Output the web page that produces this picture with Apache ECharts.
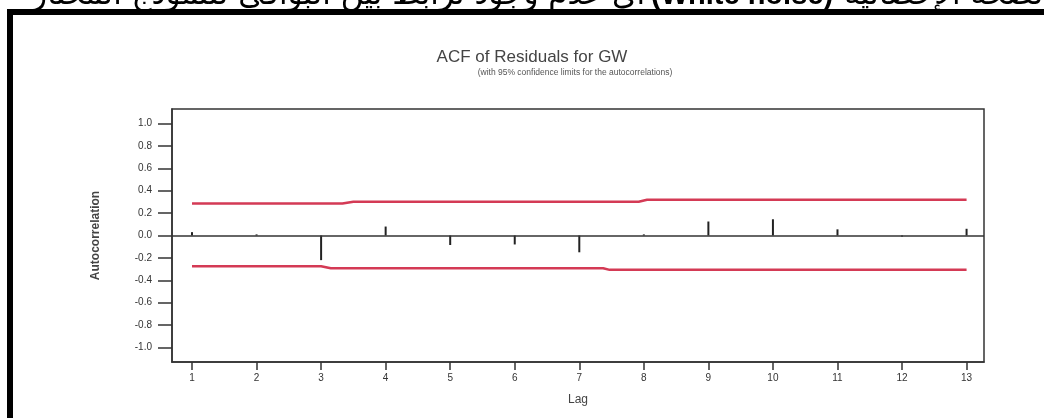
<!DOCTYPE html>
<html>
<head>
<meta charset="utf-8">
<script src="https://cdn.jsdelivr.net/npm/echarts@6/dist/echarts.min.js"></script>
<style>
  html, body { margin: 0; padding: 0; background: #fff; }
  #chart { width: 1044px; height: 418px; }
</style>
</head>
<body>
<div id="chart"></div>
<script>
// ACF values by lag
const lags = [1, 2, 3, 4, 5, 6, 7, 8, 9, 10, 11, 12, 13];
const acf = [0.03, 0.01, -0.22, 0.08, -0.085, -0.08, -0.15, 0.01, 0.125, 0.145, 0.055, -0.01, 0.06];

// 95% confidence limits (step shaped)
const upperLag = [1, 3.33, 3.5, 7.92, 8.05, 13];
const upperVal = [0.285, 0.285, 0.302, 0.302, 0.32, 0.32];
const lowerLag = [1, 3.0, 3.15, 7.37, 7.47, 13];
const lowerVal = [-0.275, -0.275, -0.292, -0.292, -0.307, -0.307];

const yTicks = [-1.0, -0.8, -0.6, -0.4, -0.2, 0.0, 0.2, 0.4, 0.6, 0.8, 1.0];

const titleText = "ACF of Residuals for GW";
const subText = "(with 95% confidence limits for the autocorrelations)";
const headRight = "الصحة الإحصائية";
const headMid = "(White noise)";
const headLeft = "أي عدم وجود ترابط بين البواقي للنموذج المختار";

const chart = echarts.init(document.getElementById("chart"));

const font = "Liberation Sans, Arial, sans-serif";

const options = {
  animation: false,
  grid: {
    left: 172, right: 60, top: 109, bottom: 56,
    show: true, borderColor: "#333", borderWidth: 1.5
  },
  graphic: [
    // header text (cut off at the top of the page)
    { type: "text", x: 1052, y: -4, style: { text: headRight, align: "right", verticalAlign: "middle", fontSize: 31, fontFamily: "DejaVu Sans", fill: "#000" } },
    { type: "text", x: 651, y: -4, style: { text: headMid, align: "left", verticalAlign: "middle", fontSize: 29, fontWeight: "bold", fontFamily: font, fill: "#000" } },
    { type: "text", x: 645, y: -4, style: { text: headLeft, align: "right", verticalAlign: "middle", fontSize: 31, fontFamily: "DejaVu Sans", fill: "#000" } },
    // frame
    { type: "rect", shape: { x: 7, y: 9, width: 1037, height: 6 }, style: { fill: "#000" }, z: 10 },
    { type: "rect", shape: { x: 7, y: 9, width: 6, height: 409 }, style: { fill: "#000" }, z: 10 },
    // titles
    { type: "text", x: 532, y: 57, style: { text: titleText, align: "center", verticalAlign: "middle", fontSize: 17, fontFamily: font, fill: "#444" } },
    { type: "text", x: 575, y: 73, style: { text: subText, align: "center", verticalAlign: "middle", fontSize: 8.5, fontFamily: font, fill: "#555" } }
  ],
  xAxis: {
    type: "value",
    min: 0.69,
    max: 13.27,
    name: "Lag",
    nameLocation: "middle",
    nameGap: 32,
    nameTextStyle: { fontSize: 12, fontFamily: font, color: "#444" },
    splitLine: { show: false },
    axisLine: { show: true, onZero: false, lineStyle: { color: "#333", width: 1.5 } },
    axisTick: { show: true, length: 8, customValues: lags, lineStyle: { color: "#333", width: 1.5 } },
    axisLabel: { customValues: lags, margin: 11, fontSize: 10, fontFamily: font, color: "#333" }
  },
  yAxis: {
    type: "value",
    min: -1.13,
    max: 1.13,
    name: "Autocorrelation",
    nameLocation: "middle",
    nameGap: 70,
    nameTextStyle: { fontSize: 12, fontWeight: "bold", fontFamily: font, color: "#444" },
    splitLine: { show: false },
    axisLine: { show: true, onZero: false, lineStyle: { color: "#333", width: 1.5 } },
    axisTick: { show: true, length: 14, customValues: yTicks, lineStyle: { color: "#333", width: 1.5 } },
    axisLabel: {
      customValues: yTicks, margin: 20, fontSize: 10, fontFamily: font, color: "#333",
      formatter: (v) => v.toFixed(1)
    }
  },
  series: [
    {
      name: "ACF",
      type: "bar",
      barWidth: 2,
      itemStyle: { color: "#222" },
      data: lags.map((l, i) => [l, acf[i]]),
      markLine: {
        silent: true,
        symbol: "none",
        label: { show: false },
        lineStyle: { color: "#333", width: 1.5, type: "solid" },
        data: [{ yAxis: 0 }]
      }
    },
    {
      name: "Upper",
      type: "line",
      symbol: "none",
      lineStyle: { color: "#d43a55", width: 2.5 },
      data: upperLag.map((l, i) => [l, upperVal[i]])
    },
    {
      name: "Lower",
      type: "line",
      symbol: "none",
      lineStyle: { color: "#d43a55", width: 2.5 },
      data: lowerLag.map((l, i) => [l, lowerVal[i]])
    }
  ]
};

chart.setOption(options);
</script>
</body>
</html>
